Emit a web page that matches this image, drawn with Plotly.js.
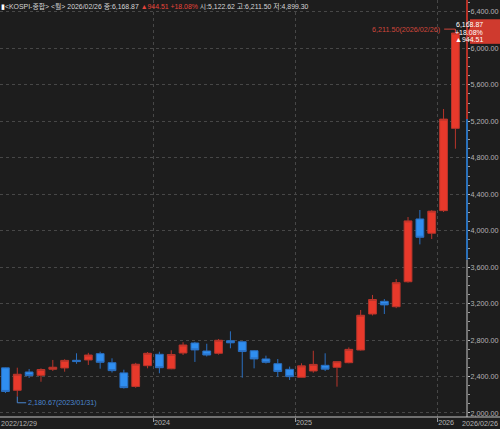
<!DOCTYPE html>
<html>
<head>
<meta charset="utf-8">
<script src="https://cdn.plot.ly/plotly-3.0.1.min.js"></script>
<style>
html,body{margin:0;padding:0;background:#1d1d1d;}
#chart{width:500px;height:429px;}
</style>
</head>
<body>
<div id="chart"></div>
<script>
// Monthly KOSPI candles, 2022/12 .. 2026/02
var months = ["2022/12","2023/01","2023/02","2023/03","2023/04","2023/05","2023/06","2023/07","2023/08","2023/09","2023/10","2023/11","2023/12",
              "2024/01","2024/02","2024/03","2024/04","2024/05","2024/06","2024/07","2024/08","2024/09","2024/10","2024/11","2024/12",
              "2025/01","2025/02","2025/03","2025/04","2025/05","2025/06","2025/07","2025/08","2025/09","2025/10","2025/11","2025/12",
              "2026/01","2026/02"];
var openV  = [2495,2249,2450,2413,2480,2494,2578,2582,2651,2552,2440,2291,2519,
              2644,2485,2658,2768,2680,2655,2793,2782,2683,2593,2541,2479,
              2392,2461,2523,2501,2552,2691,3086,3225,3166,3440,4129,3972,
              4220,5122.62];
var highV  = [2498,2497,2483,2490,2582,2590,2655,2660,2672,2600,2475,2550,2669,
              2672,2688,2776,2780,2760,2812,2896,2782,2690,2629,2592,2509,
              2545,2683,2655,2565,2720,3130,3295,3250,3470,4150,4227,4225,
              5335,6211.50];
var lowV   = [2219,2180.67,2384,2343,2461,2453,2540,2527,2486,2444,2268,2276,2490,
              2436,2480,2636,2560,2620,2640,2710,2387,2490,2543,2398,2362,
              2390,2442,2460,2289,2545,2685,3070,3086,3150,3430,3850,3909,
              4205,4899.30];
var closeV = [2236.40,2425,2410,2477,2502,2577,2564,2636,2556,2465,2278,2535,2655,
              2497,2642,2746,2692,2636,2798,2770,2674,2593,2556,2456,2399,
              2517,2533,2481,2563,2698,3072,3245,3186,3430,4107.5,3928,4214,
              5224.36,6168.87];
var yearTickVals = [12.5, 24.5, 36.5];
var yearTickText = ["2024","2025","2026"];
var firstDate = "2022/12/29", lastDate = "2026/02/26";
var highLabel = "6,211.50(2026/02/26)", lowLabel = "2,180.67(2023/01/31)";
var tagLines = ["6,168.87","+18.08%","▲944.51"];

var xIdx = months.map(function(m,i){return i;});
var RED = "#e8392b", BLUE = "#2f8ef0";
var FONT = "'Liberation Sans',Arial,'Noto Sans CJK KR',sans-serif";
var FS = 7.2;
var YR = [1956, 6531];
var W = 467;           // plot width in px
var PX = 500/W;        // paper units for the right edge of the picture

var trace = {
  type: "candlestick",
  x: xIdx, open: openV, high: highV, low: lowV, close: closeV,
  increasing: {line: {color: "#b8352b", width: 1}, fillcolor: RED},
  decreasing: {line: {color: "#2a6fc0", width: 1}, fillcolor: BLUE},
  whiskerwidth: 0,
  hoverinfo: "skip"
};

var last = xIdx.length - 1;
var layout = {
  width: 500, height: 429,
  margin: {l: 0, r: 33, t: 0, b: 12, pad: 0},
  paper_bgcolor: "#1d1d1d", plot_bgcolor: "#1d1d1d",
  showlegend: false,
  boxgap: 0.06,
  font: {family: FONT, size: FS, color: "#b4b4b4"},
  xaxis: {
    range: [-0.46, 38.98], rangeslider: {visible: false},
    tickmode: "array", tickvals: yearTickVals, ticktext: yearTickText,
    ticks: "outside", ticklen: 4, tickcolor: "#9a9a9a",
    ticklabelposition: "outside right", ticklabelstandoff: -2,
    showgrid: true, gridcolor: "#474747", griddash: "dot", gridwidth: 1,
    zeroline: false, showline: false,
    tickfont: {family: FONT, size: FS, color: "#b4b4b4"}, fixedrange: true
  },
  yaxis: {
    side: "right", range: YR, tick0: 2000, dtick: 400,
    tickformat: ",.2f", ticks: "outside", ticklen: 2, tickcolor: "#bdbdbd",
    ticklabelstandoff: -1,
    minor: {dtick: 100, ticks: "outside", ticklen: 2, tickcolor: "#9a9a9a", showgrid: false},
    showgrid: true, gridcolor: "#474747", griddash: "dot", gridwidth: 1,
    zeroline: false, showline: false,
    tickfont: {family: FONT, size: FS, color: "#b4b4b4"}, fixedrange: true
  },
  shapes: [
    // bottom axis line across the whole picture
    {type: "line", xref: "paper", yref: "paper", x0: 0, x1: PX, y0: 0, y1: 0, line: {color: "#c4c4c4", width: 1}},
    // right axis line segments
    {type: "line", xref: "paper", yref: "y", x0: 1, x1: 1, y0: closeV[last-1], y1: YR[1], line: {color: RED, width: 1.5}},
    {type: "line", xref: "paper", yref: "y", x0: 1, x1: 1, y0: 3680, y1: closeV[last-1], line: {color: BLUE, width: 1.5}},
    {type: "line", xref: "paper", yref: "y", x0: 1, x1: 1, y0: YR[0], y1: 3680, line: {color: "#c8c8c8", width: 1}},
    // low marker line
    {type: "path", xref: "x", yref: "y", path: "M 1 " + lowV[1] + " L 1 2112 L 1.75 2112", line: {color: "#4a86d0", width: 1}},
    // high marker line
    {type: "path", xref: "x", yref: "y", path: "M 37.05 " + highV[last] + " L 38 " + highV[last] + " L 38 6185", line: {color: "#d0473c", width: 1}},
    // price tag box and pointer
    {type: "rect", xref: "paper", yref: "y", x0: 470/W, x1: PX, y0: 6050, y1: 6320, fillcolor: "#cf3a2e", line: {width: 0}},
    {type: "path", xref: "paper", yref: "y", path: "M " + (470/W) + " 6225 L " + (465.5/W) + " " + closeV[last] + " L " + (470/W) + " 6115 Z", fillcolor: "#cf3a2e", line: {width: 0}}
  ],
  annotations: [
    {xref: "paper", yref: "paper", x: 0, y: 1, xanchor: "left", yanchor: "top", showarrow: false, yshift: 0, xshift: -1,
     text: "<span style='color:#ffffff'>▮</span>&lt;KOSPI-종합&gt; &lt;월&gt; 2026/02/26 종:6,168.87 <span style='color:#e8443a'>▲944.51 +18.08%</span> 시:5,122.62 고:6,211.50 저:4,899.30",
     font: {family: FONT, size: 6.9, color: "#d6d6d6"}},
    {xref: "paper", yref: "y", x: 442/W, y: highV[last], xanchor: "right", yanchor: "middle", showarrow: false,
     text: highLabel, font: {family: FONT, size: FS, color: "#d0473c"}},
    {xref: "x", yref: "y", x: 1.75, y: 2112, xanchor: "left", yanchor: "middle", showarrow: false, xshift: 0,
     text: lowLabel, font: {family: FONT, size: FS, color: "#4a86d0"}},
    {xref: "paper", yref: "paper", x: 0, y: 0, xanchor: "left", yanchor: "top", showarrow: false, yshift: 0, xshift: -1,
     text: firstDate, font: {family: FONT, size: FS, color: "#b4b4b4"}},
    {xref: "paper", yref: "paper", x: PX, y: 0, xanchor: "right", yanchor: "top", showarrow: false, yshift: 0, xshift: 0,
     text: lastDate, font: {family: FONT, size: FS, color: "#b4b4b4"}},
    {xref: "paper", yref: "y", x: 485/W, y: 6258, showarrow: false, text: tagLines[0], font: {family: FONT, size: 7, color: "#ffffff"}},
    {xref: "paper", yref: "y", x: 485/W, y: 6177, showarrow: false, text: tagLines[1], font: {family: FONT, size: 7, color: "#ffffff"}},
    {xref: "paper", yref: "y", x: 485/W, y: 6096, showarrow: false, text: tagLines[2], font: {family: FONT, size: 7, color: "#ffffff"}}
  ]
};

Plotly.newPlot("chart", [trace], layout, {displayModeBar: false, staticPlot: true});
</script>
</body>
</html>
